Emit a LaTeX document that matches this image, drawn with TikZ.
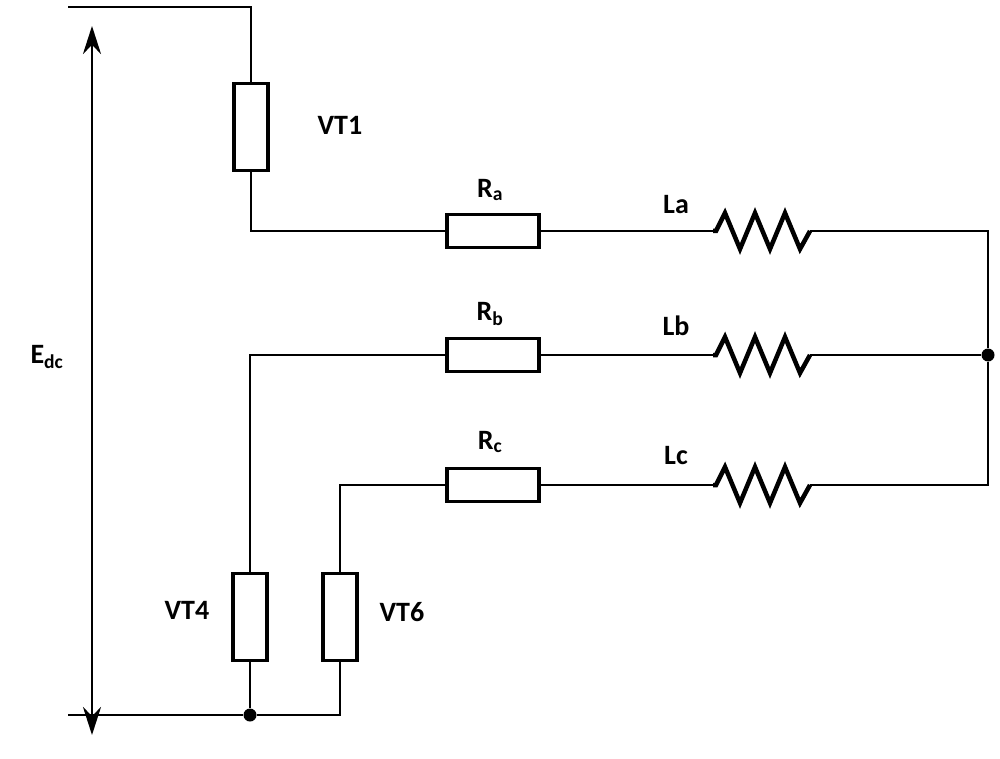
\documentclass[tikz,border=0pt]{standalone}
\usepackage{fontspec}
\setmainfont{Carlito}
\usetikzlibrary{arrows.meta}
\begin{document}
\begin{tikzpicture}[x=1pt,y=-1pt,
  w/.style={line width=2.6pt},
  box/.style={draw,line width=3.2pt,minimum width=92pt,minimum height=33pt,inner sep=0pt},
  vbox/.style={draw,line width=3.2pt,minimum width=34pt,minimum height=87pt,inner sep=0pt},
  lbl/.style={font=\bfseries\fontsize{28}{28}\selectfont},
  dot/.style={circle,fill,inner sep=0pt,minimum size=13pt}]
\useasboundingbox (0,0) rectangle (1000,759);
\node[vbox] (vt1) at (251,127) {};
\node[vbox] (vt4) at (250,617) {};
\node[vbox] (vt6) at (340,617) {};
\node[box] (ra) at (493,231) {};
\node[box] (rb) at (493,355) {};
\node[box] (rc) at (493,485) {};
\coordinate (tl) at (68,7);
\coordinate (tr) at (251,7);
\coordinate (bl) at (68,715);
\node[dot] (bd) at (250,715) {};
\node[dot] (nd) at (988,355) {};
\coordinate (ar) at (988,231);
\coordinate (cr) at (988,485);
\coordinate (br) at (340,715);
% inductors
\foreach \n/\y in {a/231,b/355,c/485}{
  \coordinate (l\n s) at (713,\y);
  \coordinate (l\n e) at (810,\y);
  \draw[line width=4.5pt,line join=miter] (l\n s) -- ++(3,0) -- ++(9,-18) -- ++(15,36) -- ++(15,-36) -- ++(15,36) -- ++(15,-36) -- ++(15,36) -- ++(10,-18) -- (l\n e);
}
\draw[w] (tl) -- (tr) -- (vt1.north);
\draw[w] (vt1.south) |- (ra.west);
\draw[w] (ra.east) -- (las);
\draw[w] (lae) -- (ar) -- (nd) -- (cr) -- (lce);
\draw[w] (rb.east) -- (lbs);
\draw[w] (lbe) -- (nd);
\draw[w] (rc.east) -- (lcs);
\draw[w] (rb.west) -| (vt4.north);
\draw[w] (rc.west) -| (vt6.north);
\draw[w] (vt4.south) -- (bd);
\draw[w] (bl) -- (bd) -- (br) -- (vt6.south);
\coordinate (at) at (92,26);
\coordinate (ab) at (92,735);
\draw[w,{Stealth[length=28pt,width=18pt]}-{Stealth[length=28pt,width=18pt]}] (at) -- (ab);
\node[lbl] (tvt1) at (340,125) {VT1};
\node[lbl] (tvt4) at (187,610) {VT4};
\node[lbl] (tvt6) at (402,612) {VT6};
\node[lbl] (tra) at (490,190) {R\textsubscript{a}};
\node[lbl] (trb) at (490,314) {R\textsubscript{b}};
\node[lbl] (trc) at (490,442) {R\textsubscript{c}};
\node[lbl] (tla) at (676,205) {La};
\node[lbl] (tlb) at (676,326) {Lb};
\node[lbl] (tlc) at (676,456) {Lc};
\node[lbl] (ted) at (47,357) {E\textsubscript{dc}};
\end{tikzpicture}
\end{document}
